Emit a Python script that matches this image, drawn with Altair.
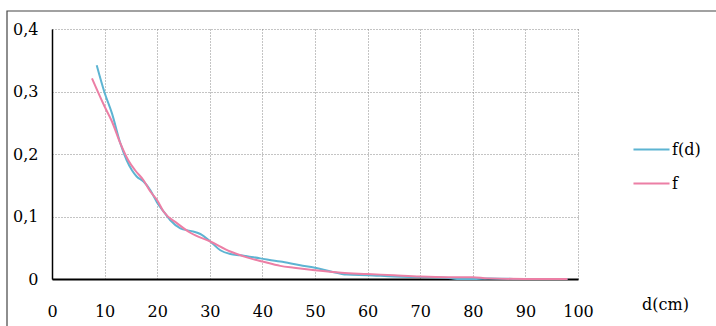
import altair as alt
import pandas as pd

# f(d) series (blue)
fd_x = [8.5, 10, 11.4, 13, 14.2, 15.2, 16.1, 17.4, 18.7, 20, 21.3, 22.5, 24.4, 26.3, 28.2,
        30.1, 32, 33.9, 35.8, 39.6, 43.4, 47.2, 50, 53, 56, 60, 65, 70, 75, 77, 80, 83, 90, 98]
fd_y = [0.342, 0.298, 0.265, 0.217, 0.19, 0.174, 0.164, 0.156, 0.142, 0.122, 0.107, 0.094,
        0.081, 0.077, 0.072, 0.06, 0.046, 0.04, 0.038, 0.033, 0.028, 0.022, 0.018, 0.012,
        0.007, 0.006, 0.004, 0.003, 0.002, 0.0, 0.0, 0.001, 0.0, 0.0]

# f series (pink)
f_x = [7.6, 10, 11.4, 13, 14.5, 15.8, 17.4, 18.7, 20, 21.2, 23.8, 26.3, 30.1, 33.9, 37.7,
       40, 43.4, 46, 50, 55, 60, 65, 70, 75, 80, 82.8, 90, 98]
f_y = [0.321, 0.276, 0.252, 0.217, 0.19, 0.174, 0.158, 0.14, 0.126, 0.108, 0.089, 0.074,
       0.06, 0.044, 0.033, 0.028, 0.021, 0.018, 0.014, 0.01, 0.008, 0.006, 0.004, 0.003,
       0.003, 0.001, 0.0, 0.0]

series_names = ["f(d)", "f"]
series_colors = ["#5db4d2", "#ec7fa5"]
x_ticks = [0, 10, 20, 30, 40, 50, 60, 70, 80, 90, 100]
y_ticks = [0, 0.1, 0.2, 0.3, 0.4]

df = pd.concat([
    pd.DataFrame({"d": fd_x, "v": fd_y, "s": "f(d)", "o": 0}),
    pd.DataFrame({"d": f_x, "v": f_y, "s": "f", "o": 1}),
])

FONT = "DejaVu Serif"
FS = 16
W, H = 526, 250
PL, PT = 52, 29

frame = alt.Chart(pd.DataFrame({"a": [0]})).mark_rect(
    fill=None, stroke="#444", strokeWidth=1.2
).encode(
    x=alt.value(7 - PL), y=alt.value(11 - PT),
    x2=alt.value(716 - PL + 10), y2=alt.value(326 - PT + 10)
)

lines = alt.Chart(df).mark_line(strokeWidth=2, interpolate="monotone").encode(
    x=alt.X("d:Q", scale=alt.Scale(domain=[0, 100], nice=False),
            axis=alt.Axis(values=x_ticks, title="d(cm)", titleX=613, titleY=30,
                          titleAlign="center", titleBaseline="alphabetic",
                          titleFont=FONT, titleFontSize=FS,
                          titleFontWeight="normal", titleColor="black",
                          labelFont=FONT, labelFontSize=FS,
                          labelColor="black", labelPadding=24, ticks=False, tickSize=0,
                          domainColor="black", domainWidth=2,
                          grid=True, gridColor="#888", gridDash=[1, 2], gridWidth=1,
                          labelFlush=False)),
    y=alt.Y("v:Q", scale=alt.Scale(domain=[0, 0.4], nice=False),
            axis=alt.Axis(values=y_ticks, title=None,
                          labelExpr="datum.value == 0 ? '0' : replace(format(datum.value, '.1f'), '.', ',')",
                          labelFont=FONT, labelFontSize=FS,
                          labelColor="black", labelPadding=14, ticks=False, tickSize=0,
                          domainColor="black", domainWidth=1.5,
                          grid=True, gridColor="#888", gridDash=[1, 2], gridWidth=1,
                          labelFlush=False)),
    color=alt.Color("s:N", scale=alt.Scale(domain=series_names, range=series_colors),
                    legend=alt.Legend(title=None, orient="none", legendX=580, legendY=101,
                                      symbolType="stroke", symbolSize=1300,
                                      symbolStrokeWidth=2, labelColor="black",
                                      labelFont=FONT, labelFontSize=FS,
                                      labelOffset=1, rowPadding=6, padding=0)),
    order="o:Q",
    detail="s:N",
)

chart = alt.layer(frame, lines).properties(
    width=W, height=H,
    autosize=alt.AutoSizeParams(type="none"),
    padding={"left": PL, "top": PT, "right": 716 - PL - W, "bottom": 326 - PT - H},
    background="white",
).configure_view(stroke=None)

chart.save("out.html", embed_options={"renderer": "svg", "actions": False})
